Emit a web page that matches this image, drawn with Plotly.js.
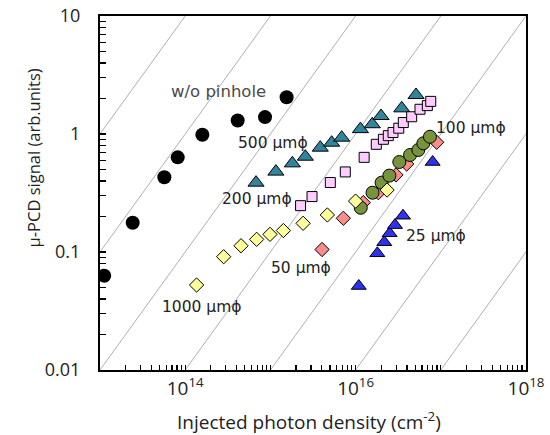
<!DOCTYPE html>
<html>
<head>
<meta charset="utf-8">
<script src="https://cdn.plot.ly/plotly-3.0.1.min.js"></script>
<style>html,body{margin:0;padding:0;background:#fff;}#chart{width:550px;height:435px;}</style>
</head>
<body>
<div id="chart"></div>
<script>
// ---- data (injected photon density in cm^-2, signal in arb. units) ----
const noPinholeX = [1.12e13, 2.42e13, 5.69e13, 8.17e13, 1.59e14, 4.13e14, 8.65e14, 1.55e15];
const noPinholeY = [0.063, 0.177, 0.43, 0.634, 0.986, 1.30, 1.39, 2.05];

const um500X = [6.78e14, 1.16e15, 1.81e15, 2.57e15, 3.85e15, 5.24e15, 6.87e15, 1.14e16, 1.57e16, 1.99e16, 3.48e16, 5.12e16];
const um500Y = [0.387, 0.48, 0.564, 0.642, 0.766, 0.844, 0.931, 1.10, 1.21, 1.42, 1.65, 2.14];

const um200X = [2.26e15, 3.08e15, 5.05e15, 7.57e15, 1.26e16, 1.75e16, 2.12e16, 2.42e16, 2.75e16, 3.21e16, 3.63e16, 4.55e16, 5.70e16, 6.95e16, 7.62e16];
const um200Y = [0.247, 0.295, 0.388, 0.477, 0.634, 0.818, 0.902, 0.968, 1.03, 1.12, 1.25, 1.40, 1.62, 1.74, 1.89];

const um100X = [1.15e16, 1.58e16, 2.02e16, 2.49e16, 3.26e16, 4.36e16, 5.45e16, 6.24e16, 7.46e16];
const um100Y = [0.237, 0.318, 0.387, 0.444, 0.579, 0.664, 0.732, 0.834, 0.948];

const um50X = [4.04e15, 7.18e15, 1.23e16, 1.85e16, 2.98e16, 3.98e16, 8.95e16];
const um50Y = [0.105, 0.193, 0.262, 0.318, 0.450, 0.557, 0.851];

const um1000X = [1.36e14, 2.83e14, 4.52e14, 6.90e14, 9.89e14, 1.42e15, 2.42e15, 4.66e15, 1.00e16, 2.34e16];
const um1000Y = [0.0525, 0.0912, 0.113, 0.128, 0.141, 0.152, 0.175, 0.206, 0.270, 0.335];

const um25X = [1.09e16, 1.80e16, 2.17e16, 2.51e16, 2.90e16, 3.60e16, 8.02e16];
const um25Y = [0.0515, 0.0975, 0.121, 0.144, 0.169, 0.203, 0.579];

// reference lines y = c * x
const refConstants = [1e-13, 1e-14, 1e-15, 1e-16, 1e-17, 1e-18, 1e-19];
const refLineX = [1e12, 1e19];

// tick labels
const xDecades = [13, 14, 15, 16, 17, 18];
const xDecadeLabels = ['', '10<sup>14</sup>', '', '10<sup>16</sup>', '', '10<sup>18</sup>'];
const yDecades = [-2, -1, 0, 1];
const yDecadeLabels = ['0.01', '0.1', '1', '10'];

// titles
const xTitle = 'Injected photon density (cm<sup>-2</sup>)';
const yTitle = 'μ-PCD signal (arb.units)';

// labels
const labelText = ['w/o pinhole', '500 μmϕ', '200 μmϕ', '1000 μmϕ', '50 μmϕ', '25 μmϕ', '100 μmϕ'];
const labelX = [2.43e14, 1.07e15, 6.97e14, 1.57e14, 2.29e15, 8.79e16, 2.26e17];
const labelY = [2.27, 0.84, 0.281, 0.0342, 0.0731, 0.137, 1.12];

// ---- build ----
function ticksFor(decades, labels, maxDec) {
  const vals = [], text = [];
  decades.forEach((d, i) => {
    vals.push(Math.pow(10, d)); text.push(labels[i]);
    if (d < maxDec) {
      for (let m = 2; m <= 9; m++) { vals.push(m * Math.pow(10, d)); text.push(''); }
    }
  });
  return {vals, text};
}
const xt = ticksFor(xDecades, xDecadeLabels, 18);
const yt = ticksFor(yDecades, yDecadeLabels, 1);

const traces = [];
refConstants.forEach(c => {
  traces.push({x: refLineX, y: refLineX.map(v => v * c), mode: 'lines',
    line: {color: '#9a9a9a', width: 0.8}, hoverinfo: 'skip', showlegend: false});
});

function series(x, y, symbol, size, color, outline) {
  return {x, y, mode: 'markers', showlegend: false,
    marker: {symbol, size, color, line: {color: '#000', width: outline}}};
}
traces.push(series(noPinholeX, noPinholeY, 'circle', 14, '#000000', 0));
traces.push(series(um500X, um500Y, 'triangle-up', 14, '#31849B', 1));
traces.push(series(um200X, um200Y, 'square', 10, '#FFCCFF', 1));
traces.push(series(um50X, um50Y, 'diamond', 11, '#FA8C8C', 1));
traces.push(series(um100X, um100Y, 'circle', 13, '#77933C', 1));
traces.push(series(um1000X, um1000Y, 'diamond', 11, '#FFFF99', 1));
traces.push(series(um25X, um25Y, 'triangle-up', 13, '#3030F0', 1));

const annotations = labelText.map((t, i) => ({
  x: Math.log10(labelX[i]), y: Math.log10(labelY[i]), xref: 'x', yref: 'y',
  text: t, showarrow: false,
  font: {family: 'DejaVu Sans', size: i === 0 ? 16.5 : 15.5, color: i === 0 ? '#4a4a4a' : '#222'}
}));
annotations.push({xref: 'paper', yref: 'paper', x: 0.4906, y: -0.144, xanchor: 'center', yanchor: 'middle',
  text: xTitle, showarrow: false, font: {family: 'Open Sans', size: 19, color: '#222'}});
annotations.push({xref: 'paper', yref: 'paper', x: -0.157, y: 0.598, xanchor: 'center', yanchor: 'middle',
  text: yTitle, textangle: -90, showarrow: false, font: {family: 'Open Sans', size: 16.5, color: '#222'}});

const layout = {
  width: 550, height: 435,
  margin: {l: 100, r: 24, t: 16, b: 65},
  paper_bgcolor: '#fff', plot_bgcolor: '#fff',
  font: {family: 'Open Sans', size: 16, color: '#222'},
  xaxis: {type: 'log', range: [13, 18], tickmode: 'array', tickvals: xt.vals, ticktext: xt.text,
    ticks: 'inside', ticklen: 5, tickwidth: 1.2, tickcolor: '#000', showgrid: false, zeroline: false,
    showline: true, linecolor: '#000', linewidth: 2, mirror: true,
    tickfont: {family: 'Open Sans', size: 19, color: '#222'}, ticklabelstandoff: 0,
    title: {text: ''}},
  yaxis: {type: 'log', range: [-2, 1], tickmode: 'array', tickvals: yt.vals, ticktext: yt.text,
    ticks: 'inside', ticklen: 6, tickwidth: 1.2, tickcolor: '#000', showgrid: false, zeroline: false,
    showline: true, linecolor: '#000', linewidth: 2, mirror: true,
    tickfont: {family: 'Open Sans', size: 18, color: '#222'}, ticklabelstandoff: 14,
    title: {text: ''}},
  annotations
};

Plotly.newPlot('chart', traces, layout, {staticPlot: true, displayModeBar: false});
</script>
</body>
</html>
